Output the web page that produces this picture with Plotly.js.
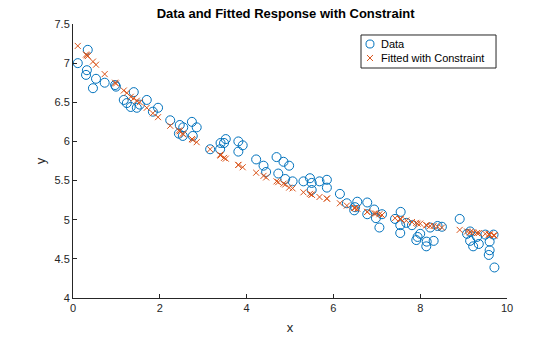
<!DOCTYPE html>
<html>
<head>
<meta charset="utf-8">
<script src="https://cdn.plot.ly/plotly-3.0.1.min.js"></script>
<style>html,body{margin:0;padding:0;background:#fff;}#chart{width:560px;height:337px;}</style>
</head>
<body>
<div id="chart"></div>
<script>
// x positions of the data points
var xData = [0.11,0.30,0.32,0.34,0.46,0.53,0.73,0.97,0.99,1.17,1.24,1.33,1.40,1.47,1.54,1.70,1.84,1.96,
  2.24,2.44,2.46,2.53,2.54,2.74,2.76,2.85,3.16,3.39,3.40,3.48,3.52,3.81,3.81,3.91,
  4.22,4.39,4.45,4.69,4.73,4.85,4.89,4.98,5.06,5.31,5.46,5.50,5.50,5.68,5.85,5.85,
  6.15,6.31,6.48,6.50,6.55,6.78,6.78,6.94,6.98,7.06,7.12,7.42,7.55,7.54,7.54,7.68,7.81,
  7.91,7.94,8.00,8.14,8.15,8.23,8.31,8.40,8.50,8.91,9.08,9.15,9.15,9.22,9.31,9.35,
  9.50,9.58,9.60,9.60,9.69,9.71];
// observed responses
var yData = [7.00,6.85,6.91,7.17,6.68,6.80,6.75,6.72,6.70,6.53,6.49,6.44,6.63,6.43,6.47,6.53,6.38,6.43,
  6.27,6.10,6.21,6.07,6.18,6.25,6.07,6.18,5.90,5.90,5.98,5.98,6.03,6.00,5.87,5.95,
  5.77,5.69,5.61,5.80,5.59,5.74,5.52,5.69,5.49,5.49,5.53,5.47,5.38,5.49,5.51,5.41,
  5.33,5.21,5.12,5.16,5.23,5.22,5.07,5.13,5.02,4.90,5.07,5.01,5.10,4.93,4.83,4.96,4.93,
  4.74,4.78,4.82,4.66,4.72,4.90,4.73,4.92,4.91,5.01,4.82,4.85,4.73,4.66,4.78,4.69,
  4.81,4.55,4.72,4.61,4.81,4.39];
// fitted responses (with constraint)
var yFit = [7.22,7.11,7.10,7.09,7.02,6.98,6.86,6.75,6.74,6.65,6.62,6.57,6.55,6.52,6.50,6.43,6.36,6.31,
  6.20,6.14,6.13,6.10,6.09,6.03,6.02,5.99,5.90,5.83,5.82,5.79,5.78,5.70,5.70,5.67,
  5.60,5.56,5.54,5.49,5.48,5.46,5.45,5.41,5.40,5.35,5.33,5.32,5.32,5.29,5.27,5.27,
  5.21,5.18,5.15,5.15,5.14,5.10,5.10,5.08,5.08,5.07,5.06,5.02,5.01,5.01,5.01,4.99,4.97,
  4.96,4.95,4.95,4.93,4.93,4.92,4.92,4.91,4.90,4.87,4.85,4.84,4.84,4.84,4.83,4.83,
  4.82,4.81,4.81,4.81,4.80,4.80];
var seriesNames = ['Data', 'Fitted with Constraint'];
var xTicks = [0,2,4,6,8,10];
var yTicks = [4,4.5,5,5.5,6,6.5,7,7.5];
var yTickText = ['4','4.5','5','5.5','6','6.5','7','7.5'];

var font = 'Liberation Sans, Arial, Helvetica, sans-serif';
var blue = '#0072BD', orange = '#D95319';
var traces = [
  {x: xData, y: yData, type: 'scatter', mode: 'markers', name: seriesNames[0],
   marker: {symbol: 'circle-open', size: 9, color: blue, line: {width: 1, color: blue}}},
  {x: xData, y: yFit, type: 'scatter', mode: 'markers', name: seriesNames[1],
   marker: {symbol: 'x-thin-open', size: 6, color: orange, line: {width: 1, color: orange}}}
];
var axisCommon = {
  showgrid: false, zeroline: false, showline: true, linecolor: '#262626', linewidth: 1,
  ticks: 'inside', ticklen: 4, tickcolor: '#262626', tickwidth: 1,
  tickfont: {family: font, size: 11, color: '#262626'}, mirror: false
};

// manual MATLAB-style legend box (paper coordinates)
var L = {x0: 0.6636, x1: 0.9747, y0: 0.8394, y1: 0.9599, gx: 0.6843, tx: 0.7051, r1: 0.9270, r2: 0.8759};
var shapes = [
  {type: 'rect', xref: 'paper', yref: 'paper', x0: L.x0, x1: L.x1, y0: L.y0, y1: L.y1,
   line: {color: '#262626', width: 1}, fillcolor: '#ffffff', layer: 'above'},
  {type: 'circle', xref: 'paper', yref: 'paper', x0: L.gx - 0.0092, x1: L.gx + 0.0092,
   y0: L.r1 - 0.0146, y1: L.r1 + 0.0146, line: {color: blue, width: 1}, layer: 'above'},
  {type: 'line', xref: 'paper', yref: 'paper', x0: L.gx - 0.0069, x1: L.gx + 0.0069,
   y0: L.r2 - 0.011, y1: L.r2 + 0.011, line: {color: orange, width: 1}, layer: 'above'},
  {type: 'line', xref: 'paper', yref: 'paper', x0: L.gx - 0.0069, x1: L.gx + 0.0069,
   y0: L.r2 + 0.011, y1: L.r2 - 0.011, line: {color: orange, width: 1}, layer: 'above'}
];
var annotations = [
  {xref: 'paper', yref: 'paper', x: L.tx, y: L.r1, xanchor: 'left', yanchor: 'middle', showarrow: false,
   text: seriesNames[0], font: {family: font, size: 11, color: '#000000'}},
  {xref: 'paper', yref: 'paper', x: L.tx, y: L.r2, xanchor: 'left', yanchor: 'middle', showarrow: false,
   text: seriesNames[1], font: {family: font, size: 11, color: '#000000'}}
];

var layout = {
  width: 560, height: 337,
  margin: {l: 73, r: 53, t: 24, b: 39, pad: 0},
  paper_bgcolor: '#ffffff', plot_bgcolor: '#ffffff',
  showlegend: false,
  title: {text: '<b>Data and Fitted Response with Constraint</b>', x: 0.51, xanchor: 'center',
          y: 0.96, yanchor: 'middle', font: {family: font, size: 13, color: '#000000'}},
  xaxis: Object.assign({}, axisCommon, {range: [0, 10], tickvals: xTicks, ticktext: xTicks.map(String),
          title: {text: 'x', font: {family: font, size: 13, color: '#262626'}, standoff: 9}}),
  yaxis: Object.assign({}, axisCommon, {range: [4, 7.5], tickvals: yTicks, ticktext: yTickText,
          title: {text: 'y', font: {family: font, size: 13, color: '#262626'}, standoff: 5}}),
  shapes: shapes,
  annotations: annotations
};
Plotly.newPlot('chart', traces, layout, {staticPlot: true, displayModeBar: false});
</script>
</body>
</html>
